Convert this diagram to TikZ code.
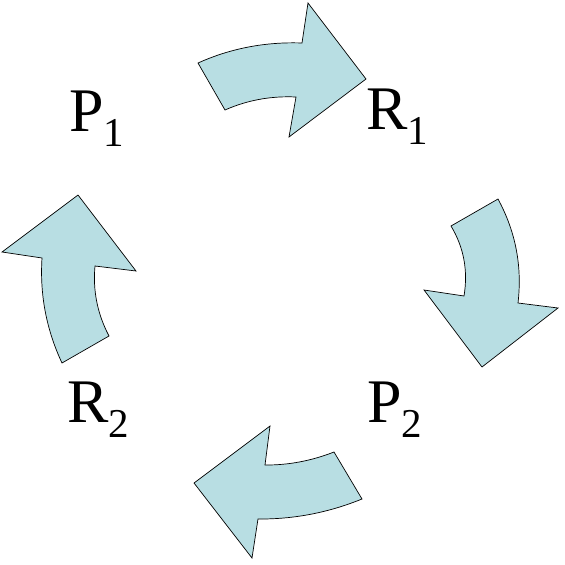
\documentclass[tikz,border=0pt]{standalone}
\usepackage{fontspec}
\setmainfont{Liberation Serif}
\usetikzlibrary{positioning}
\definecolor{paleteal}{HTML}{B8DEE3}
\newcommand{\lowidx}[1]{\raisebox{-15pt}{\fontsize{41}{41}\selectfont #1}}

\begin{document}
\begin{tikzpicture}[
  x=1pt, y=-1pt,
  flow/.style={draw=black, fill=paleteal, line width=0.7pt, line join=miter},
  lbl/.style={anchor=base west, inner sep=0pt, font=\fontsize{62}{62}\selectfont}
]
\useasboundingbox (0,0) rectangle (565,565);

% state labels
\node[lbl] (p1) at (69,131) {P\lowidx{1}};
\node[lbl] (r1) at (366,129) {R\lowidx{1}};
\node[lbl] (p2) at (367,422) {P\lowidx{2}};
\node[lbl] (r2) at (67,422) {R\lowidx{2}};

% curved block arrows, clockwise
\draw[flow] (198,63) .. controls (230.7,48.3) and (265.3,41.7) .. (302,43)
  -- (308,3) -- (366,79) -- (289,137) -- (296,97)
  .. controls (270.8,95.8) and (247.2,100.2) .. (225,110) -- cycle;
\draw[flow] (498,199) .. controls (515.7,231.7) and (522.3,266.3) .. (518,303)
  -- (558,308) -- (482,367) -- (424,290) -- (464,296)
  .. controls (468.2,270.7) and (463.8,247.3) .. (451,226) -- cycle;
\draw[flow] (362,499) .. controls (328.3,512.7) and (293.7,519.3) .. (258,519)
  -- (252,558) -- (194,483) -- (270,426) -- (265,465)
  .. controls (288.5,465.2) and (311.5,460.8) .. (334,452) -- cycle;
\draw[flow] (42,258) .. controls (39.7,294.5) and (46.3,329.5) .. (62,363)
  -- (109,336) .. controls (97.3,313.7) and (92.7,290.3) .. (95,266)
  -- (136,271) -- (78,195) -- (2,252) -- cycle;
\end{tikzpicture}
\end{document}
